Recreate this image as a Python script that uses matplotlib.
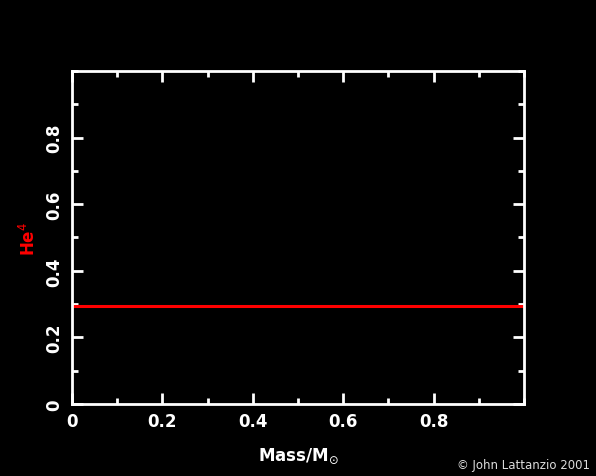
import matplotlib
matplotlib.use("Agg")
import matplotlib.pyplot as plt
from matplotlib.ticker import MultipleLocator, FixedLocator

mass = [0.0, 1.0]
he4 = [0.294, 0.294]
xticks = [0, 0.2, 0.4, 0.6, 0.8]
xticklabels = ["0", "0.2", "0.4", "0.6", "0.8"]
yticks = [0, 0.2, 0.4, 0.6, 0.8]
yticklabels = ["0", "0.2", "0.4", "0.6", "0.8"]

plt.rcParams['mathtext.fontset'] = 'dejavusans'
fig = plt.figure(figsize=(5.96, 4.77), dpi=100, facecolor='black')
ax = fig.add_axes([72/596, 1-405/477, (524-72)/596, (405-72)/477])
ax.set_facecolor('black')
ax.plot(mass, he4, color='#ff0000', lw=2.2, solid_capstyle='butt')
ax.set_xlim(0, 1)
ax.set_ylim(0, 1)
for s in ax.spines.values():
    s.set_color('white')
    s.set_linewidth(2)
ax.xaxis.set_major_locator(FixedLocator(xticks))
ax.yaxis.set_major_locator(FixedLocator(yticks))
ax.xaxis.set_minor_locator(MultipleLocator(0.1))
ax.yaxis.set_minor_locator(MultipleLocator(0.1))
ax.set_xticklabels(xticklabels)
ax.set_yticklabels(yticklabels, rotation=90, va='center')
ax.tick_params(which='both', direction='in', colors='white', top=True, right=True, width=2)
ax.tick_params(which='major', length=8, labelsize=12, pad=6)
ax.tick_params(which='minor', length=4)
for lab in ax.get_xticklabels() + ax.get_yticklabels():
    lab.set_fontweight('bold')
ax.set_xlabel(r"Mass/M$_{\odot}$", color='white', fontsize=12, fontweight='bold')
ax.xaxis.set_label_coords(0.5, -(447-405)/333)
ax.set_ylabel(r"He$^{4}$", color='#ff0000', fontsize=12, fontweight='bold')
ax.yaxis.set_label_coords(-(72-39)/452, 0.5)
fig.text(590/596, 1-466/477, "© John Lattanzio 2001", color='#dddddd', fontsize=8.5, ha='right', va='center')
fig.savefig("out.png", dpi=100, facecolor='black')
